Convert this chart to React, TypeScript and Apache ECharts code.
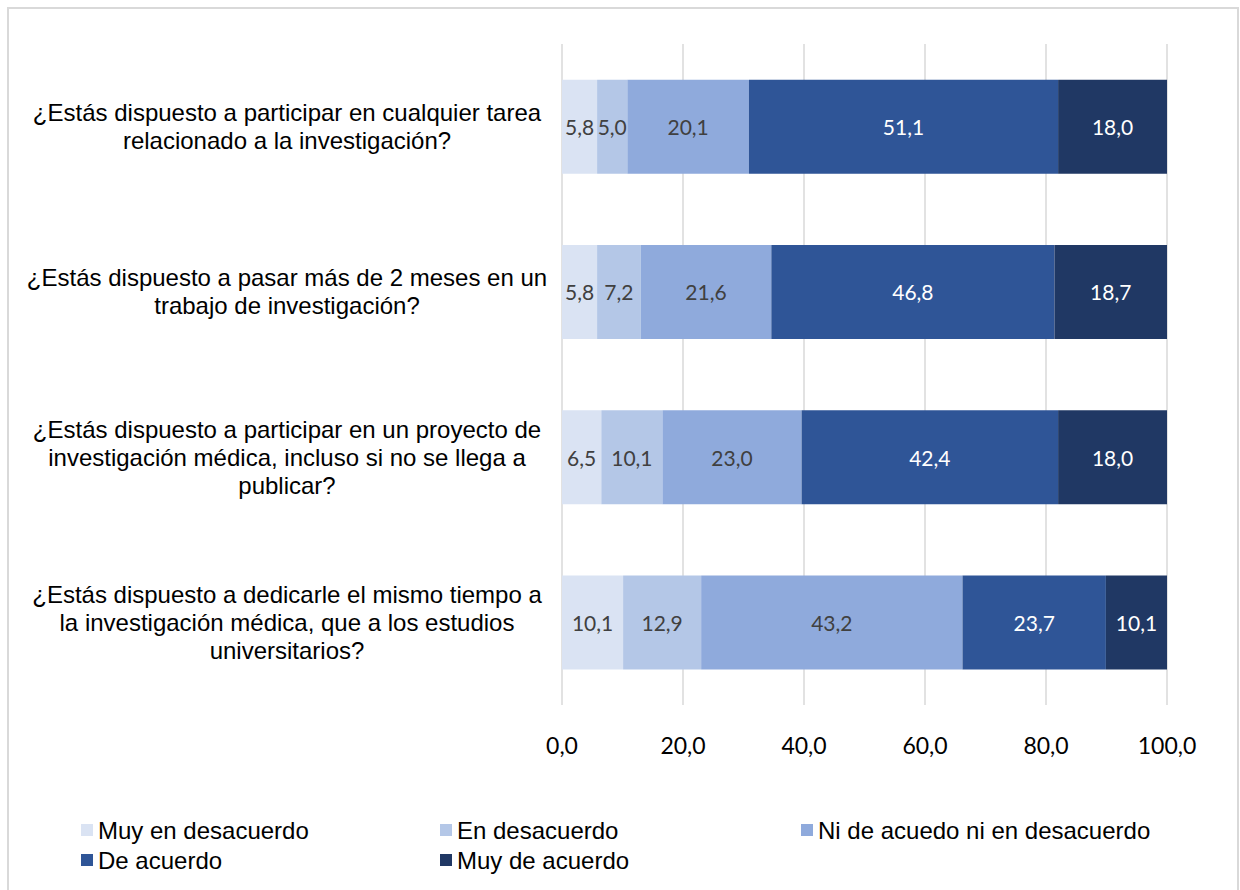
import React, { useEffect, useRef } from "react";
import * as echarts from "echarts";

const categories = [
  "¿Estás dispuesto a participar en cualquier tarea\nrelacionado a la investigación?",
  "¿Estás dispuesto a pasar más de 2 meses en un\ntrabajo de investigación?",
  "¿Estás dispuesto a participar en un proyecto de\ninvestigación médica, incluso si no se llega a\npublicar?",
  "¿Estás dispuesto a dedicarle el mismo tiempo a\nla investigación médica, que a los estudios\nuniversitarios?",
];

const seriesNames = [
  "Muy en desacuerdo",
  "En desacuerdo",
  "Ni de acuedo ni en desacuerdo",
  "De acuerdo",
  "Muy de acuerdo",
];

const muyEnDesacuerdo = [5.8, 5.8, 6.5, 10.1];
const enDesacuerdo = [5.0, 7.2, 10.1, 12.9];
const niDeAcuerdo = [20.1, 21.6, 23.0, 43.2];
const deAcuerdo = [51.1, 46.8, 42.4, 23.7];
const muyDeAcuerdo = [18.0, 18.7, 18.0, 10.1];

const seriesValues = [muyEnDesacuerdo, enDesacuerdo, niDeAcuerdo, deAcuerdo, muyDeAcuerdo];
const colors = ["#DAE3F3", "#B4C7E7", "#8FAADC", "#2F5597", "#203864"];
const labelColors = ["#404040", "#404040", "#404040", "#FFFFFF", "#FFFFFF"];

const fmt = (v: number) => v.toFixed(1).replace(".", ",");

const legendPos = [
  { left: 81, top: 818 },
  { left: 440, top: 818 },
  { left: 801, top: 818 },
  { left: 81, top: 848 },
  { left: 440, top: 848 },
];

export default function App() {
  const ref = useRef<HTMLDivElement>(null);
  useEffect(() => {
    if (!ref.current) return;
    const chart = echarts.init(ref.current, null, { renderer: "svg" });
    chart.setOption({
      animation: false,
      backgroundColor: "#FFFFFF",
      graphic: [
        {
          type: "rect",
          shape: { x: 8, y: 8, width: 1230, height: 900 },
          style: { fill: "none", stroke: "#D9D9D9", lineWidth: 2 },
          silent: true,
        },
      ],
      legend: seriesNames.map((n, i) => ({
        data: [n],
        left: legendPos[i].left,
        top: legendPos[i].top,
        icon: "rect",
        itemWidth: 12,
        itemHeight: 12,
        itemGap: 5,
        padding: 0,
        textStyle: { fontFamily: "Liberation Sans", fontSize: 24, color: "#000000" },
      })),
      grid: { left: 562, right: 73, top: 44, bottom: 185 },
      xAxis: {
        type: "value",
        min: 0,
        max: 100,
        interval: 20,
        axisLine: { show: false },
        axisTick: { show: false },
        splitLine: { lineStyle: { color: "#D9D9D9", width: 1.5 } },
        axisLabel: {
          formatter: (v: number) => fmt(v),
          fontFamily: "Lato",
          fontSize: 23,
          color: "#000000",
          margin: 28,
        },
      },
      yAxis: {
        type: "category",
        inverse: true,
        data: categories,
        axisLine: { show: false },
        axisTick: { show: false },
        axisLabel: {
          align: "center",
          margin: 275,
          fontFamily: "Liberation Sans",
          fontSize: 24,
          lineHeight: 28,
          color: "#000000",
        },
      },
      series: seriesNames.map((n, i) => ({
        name: n,
        type: "bar",
        stack: "total",
        barWidth: 94,
        data: seriesValues[i],
        itemStyle: { color: colors[i] },
        label: {
          show: true,
          position: "inside",
          formatter: (p: any) => fmt(p.value),
          fontFamily: "Lato",
          fontSize: 21,
          color: labelColors[i],
        },
      })),
    });
    return () => chart.dispose();
  }, []);
  return (
    <div
      ref={ref}
      style={{ position: "absolute", left: 0, top: 0, width: 1240, height: 890 }}
    />
  );
}
